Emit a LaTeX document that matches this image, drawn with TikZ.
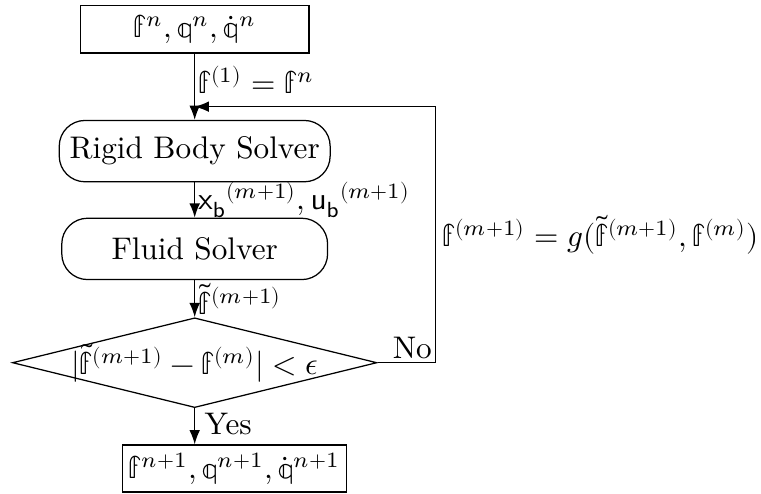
\documentclass[tikz,border=0pt]{standalone}
\usepackage{amsmath}
\usepackage{unicode-math}
\usepackage{tikz}
\usetikzlibrary{shapes.geometric, arrows.meta}

\begin{document}
\begin{tikzpicture}[
    state/.style={draw, rectangle, inner sep=2pt, minimum height=0.53cm},
    solver/.style={draw, rectangle, rounded corners=0.29cm, minimum width=2.99cm, minimum height=0.69cm},
    check/.style={draw, diamond, inner sep=0pt, minimum width=4.1cm, minimum height=1.01cm},
    flow/.style={-{Latex[length=1.6mm, width=1.2mm]}},
    lbl/.style={right, inner sep=1pt}]
    \useasboundingbox (0, 0) rectangle (8.56, 5.55);

    % boxes
    \node[state, minimum width=2.57cm] (old) at (2.19, 5.22) {$\mathbb{f}^n, \mathbb{q}^n, \dot{\mathbb{q}}^n$};
    \node[solver] (rigid) at (2.19, 3.85) {Rigid Body Solver};
    \node[solver] (fluid) at (2.19, 2.75) {Fluid Solver};
    \node[check] (conv) at (2.19, 1.47) {};
    \node (convtext) at (conv) {$|\tilde{\mathbb{f}}^{(m+1)} - \mathbb{f}^{(m)}| < \epsilon$};
    \node[state, minimum width=1.66cm] (new) at (2.64, 0.28) {$\mathbb{f}^{n+1}, \mathbb{q}^{n+1}, \dot{\mathbb{q}}^{n+1}$};

    \coordinate (join) at (2.19, 4.35);
    \coordinate (back) at (4.9, 4.35);

    % connectors
    \draw[flow] (old) -- node[lbl, pos=0.4] {$\mathbb{f}^{(1)} = \mathbb{f}^n$} (rigid);
    \draw[flow] (rigid) -- node[lbl] {${\mathsf{x_b}}^{(m+1)}, {\mathsf{u_b}}^{(m+1)}$} (fluid);
    \draw[flow] (fluid) -- node[lbl] {$\tilde{\mathbb{f}}^{(m+1)}$} (conv);
    \draw[flow] (conv.south) -- node[lbl, pos=0.45, inner sep=3pt] {Yes} (conv.south |- new.north);
    \draw[flow] (conv.east) -- node[above left, inner sep=1pt, pos=1] {No} (conv.east -| back)
        -- node[lbl, inner sep=2pt] {$\mathbb{f}^{(m+1)} = g(\tilde{\mathbb{f}}^{(m+1)}, \mathbb{f}^{(m)})$} (back) -- (join);
\end{tikzpicture}
\end{document}
